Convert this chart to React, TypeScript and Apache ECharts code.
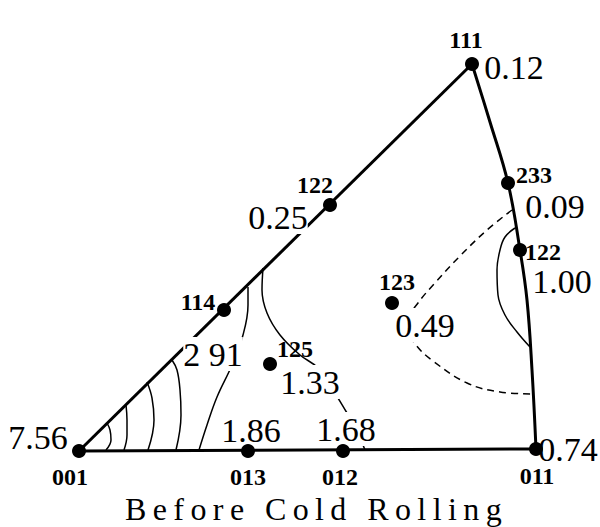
import React, { useEffect, useRef } from "react";
import * as echarts from "echarts";

// Pole positions in the unit triangle (drawing units, y grows downward)
const poleNames = ["111", "233", "122", "122", "114", "125", "123", "001", "013", "012", "011"];
const poleX = [472, 508, 520, 330, 224, 270, 392, 79, 248, 343, 536];
const poleY = [64, 183, 250, 205, 310, 364, 303, 451, 451, 451, 449];
// Orientation density at each pole
const densityLabels = ["0.12", "0.09", "1.00", "0.25", "2 91", "1.33", "0.49", "7.56", "1.86", "1.68", "0.74"];

// Label placement relative to each pole
const indexOffsets = [[-6, -24], [26, -8], [23, 2], [-15, -20], [-26, -8], [25, -15], [5, -21], [-9, 26], [0, 26], [-3, 26], [1, 27]];
const valueOffsets = [[42, 3], [47, 23], [42, 31], [-52, 12], [-11, 44], [40, 18], [33, 22], [-41, -14], [3, -21], [3, -22], [32, 0]];

// Triangle boundary
const edge001to111 = [[79, 451], [472, 64]];
const edge001to011 = [[79, 451], [536, 449]];
const edge111to011 = [[472, 64], [490, 122], [508, 183], [520, 250], [527, 300], [532, 370], [536, 449]];

// Iso-density contours
const contours = [
  [[107, 423], [110, 430], [111, 440], [106, 450]],
  [[126, 405], [127, 420], [127, 435], [124, 450]],
  [[147, 382], [152, 398], [154, 420], [148, 450]],
  [[172, 360], [177, 370], [180, 390], [181, 415], [176, 450]],
  [[248, 287], [248, 305], [243, 335], [232, 365], [217, 397], [207, 425], [199, 450]],
  [[263, 268], [262, 290], [267, 313], [280, 335], [300, 355], [318, 368], [333, 390], [347, 413], [356, 428], [363, 445], [365, 450]],
  [[515, 228], [505, 237], [500, 250], [497, 270], [498, 295], [505, 315], [517, 332], [530, 347]],
];
const dashedContour = [[512, 210], [487, 230], [460, 256], [435, 283], [418, 303], [410, 318], [410, 332], [416, 345], [433, 361], [467, 383], [500, 392], [533, 394]];

const titleText = "Before Cold Rolling";
const FONT = "'Liberation Serif', 'Times New Roman', serif";

function spaced(s: string): string {
  return s.split("").join("\u2009");
}

export default function App() {
  const ref = useRef<HTMLDivElement>(null);
  useEffect(() => {
    if (!ref.current) return;
    const chart = echarts.init(ref.current, null, { renderer: "svg" });
    const lineBase = (data: number[][], width: number, smooth: boolean, dashed = false) => ({
      type: "line",
      data,
      smooth: smooth ? 0.4 : false,
      symbol: "none",
      z: 2,
      silent: true,
      lineStyle: { color: "#000", width, type: dashed ? [7, 5] : "solid" },
    });
    chart.setOption({
      animation: false,
      backgroundColor: "#fff",
      title: {
        text: spaced(titleText),
        left: 120,
        top: 488,
        textStyle: { fontFamily: FONT, fontSize: 32, fontWeight: "normal", color: "#000" },
      },
      grid: { left: 0, right: 0, top: 0, bottom: 0 },
      xAxis: { type: "value", min: 0, max: 600, show: false },
      yAxis: { type: "value", min: 0, max: 527, inverse: true, show: false },
      series: [
        lineBase(edge001to111, 3, false),
        lineBase(edge001to011, 3, false),
        lineBase(edge111to011, 3, true),
        ...contours.map((c) => lineBase(c, 1.5, true)),
        lineBase(dashedContour, 1.5, true, true),
        {
          type: "scatter",
          symbol: "circle",
          symbolSize: 1,
          z: 3,
          silent: true,
          itemStyle: { opacity: 0 },
          data: poleX.map((x, i) => ({
            value: [x, poleY[i]],
            label: { offset: valueOffsets[i] },
          })),
          label: {
            show: true,
            position: "inside",
            formatter: (p: any) => densityLabels[p.dataIndex],
            fontFamily: FONT,
            fontSize: 34,
            color: "#000",
            opacity: 1,
            backgroundColor: "#fff",
            padding: 0,
          },
        },
        {
          type: "scatter",
          symbol: "circle",
          symbolSize: 14,
          z: 4,
          silent: true,
          itemStyle: { color: "#000", opacity: 1 },
          data: poleX.map((x, i) => ({
            value: [x, poleY[i]],
            label: { offset: indexOffsets[i] },
          })),
          label: {
            show: true,
            position: "inside",
            formatter: (p: any) => poleNames[p.dataIndex],
            fontFamily: FONT,
            fontSize: 24,
            fontWeight: "bold",
            color: "#000",
          },
        },
      ],
    });
    return () => chart.dispose();
  }, []);
  return <div ref={ref} style={{ position: "absolute", left: 0, top: 0, width: 600, height: 527 }} />;
}
